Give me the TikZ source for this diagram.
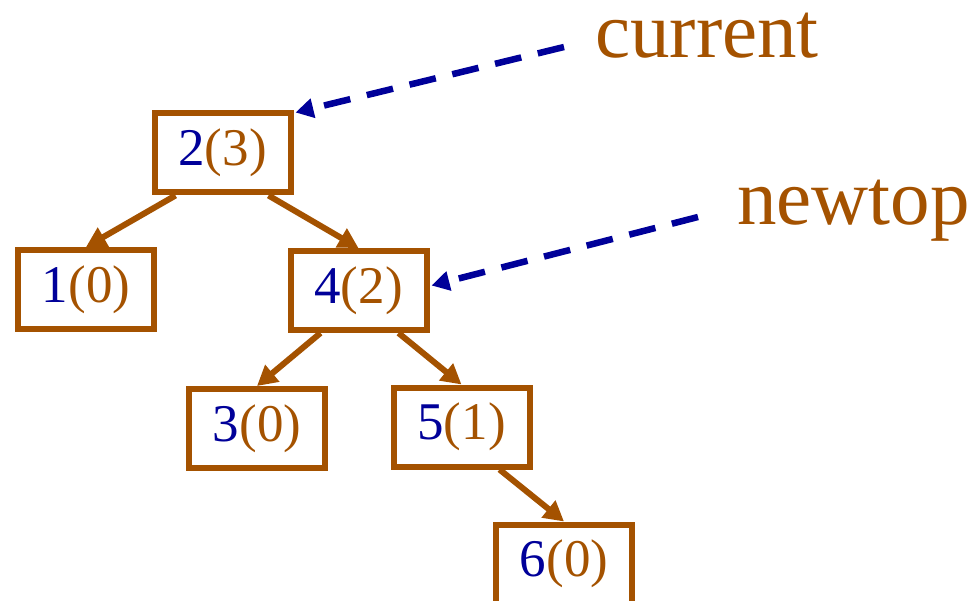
\documentclass[tikz,border=0pt]{standalone}
\usepackage{fontspec}
\setmainfont{Liberation Serif}
\usetikzlibrary{arrows.meta}
\definecolor{treeorange}{RGB}{164,82,0}
\definecolor{treeblue}{RGB}{0,0,153}
\tikzset{
  treebox/.style={draw=treeorange, line width=6pt, minimum width=136pt, minimum height=79pt,
    inner sep=0pt, text=treeorange, font=\fontsize{53}{60}\selectfont},
  treeedge/.style={draw=treeorange, line width=6pt, -{Triangle[length=20pt,width=21pt]}},
  pointer/.style={draw=treeblue, line width=6.5pt, dash pattern=on 27pt off 17pt,
    -{Triangle[length=18pt,width=19pt]}},
  tag/.style={text=treeorange, font=\fontsize{79}{90}\selectfont, inner sep=0pt,
    text height=0.62em, text depth=0.22em, anchor=base west}
}
\newcommand{\kv}[2]{\textcolor{treeblue}{#1}(#2)}
\begin{document}
\begin{tikzpicture}[x=1pt,y=-1pt]
\useasboundingbox (0,0) rectangle (979,601);
\node[treebox] (b23) at (222.5,153) {\kv{2}{3}};
\node[treebox] (b10) at (86,289.5) {\kv{1}{0}};
\node[treebox] (b42) at (358.5,290.5) {\kv{4}{2}};
\node[treebox] (b30) at (257,428.5) {\kv{3}{0}};
\node[treebox] (b51) at (461.5,427) {\kv{5}{1}};
\node[treebox] (b60) at (564,564) {\kv{6}{0}};
\draw[treeedge] ([xshift=-47pt]b23.south) -- (b10.north);
\draw[treeedge] ([xshift=46pt]b23.south) -- (b42.north);
\draw[treeedge] ([xshift=-38pt]b42.south) -- (b30.north);
\draw[treeedge] ([xshift=40pt]b42.south) -- (b51.north);
\draw[treeedge] ([xshift=38pt]b51.south) -- (b60.north);
\node[tag] (cur) at (595,58) {current};
\node[tag] (nt) at (737,225) {newtop};
\coordinate (cs) at (564,47);
\coordinate (ns) at (698,217);
\draw[pointer] (cs) -- ([xshift=2pt,yshift=-2pt]b23.north east);
\draw[pointer] (ns) -- ([xshift=2pt,yshift=5pt]b42.east);
\end{tikzpicture}
\end{document}
